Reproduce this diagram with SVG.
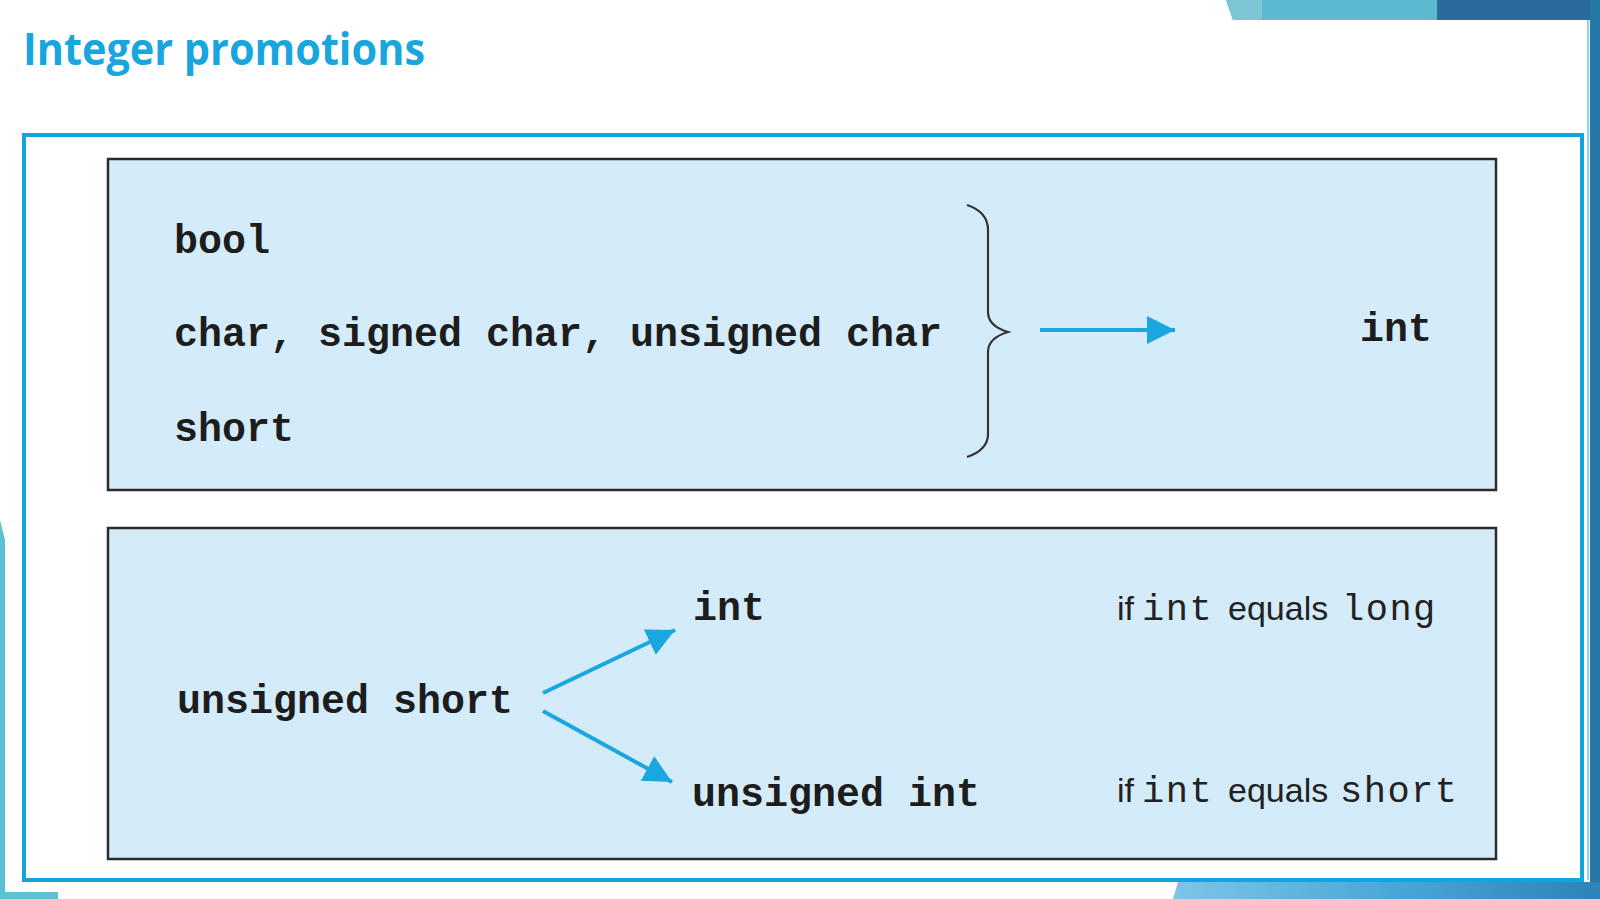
<svg xmlns="http://www.w3.org/2000/svg" width="1600" height="899" viewBox="0 0 1600 899">
<style>
.title{font-family:"Open Sans","Liberation Sans",sans-serif;font-weight:bold;font-size:44px;fill:#19a5de}
.code{font-family:"Liberation Mono","Courier New",monospace;font-weight:bold;font-size:40px;fill:#1d1d1d}
.mono{font-family:"Liberation Mono","Courier New",monospace;font-size:37px;letter-spacing:1.5px;fill:#222}
.sans{font-family:"Liberation Sans",Arial,sans-serif;font-size:34px;fill:#222}
.box{fill:#d4ecf9;stroke:#2b2b2b;stroke-width:2.5}
.conn{stroke:#1aa6df;stroke-width:4;fill:none}
</style>
<defs>
<marker id="ah" markerWidth="8" markerHeight="8" refX="7" refY="4" orient="auto" markerUnits="strokeWidth">
<path d="M0,0.5 L7,4 L0,7.5 z" fill="#1aa6df"/>
</marker>
<linearGradient id="bg" x1="0" y1="0" x2="1" y2="0">
<stop offset="0" stop-color="#7fc4e6"/>
<stop offset="0.5" stop-color="#4aa8d8"/>
<stop offset="1" stop-color="#2a84b8"/>
</linearGradient>
</defs>
<rect x="0" y="0" width="1600" height="899" fill="#ffffff"/>
<!-- decorations -->
<polygon points="1226,0 1437,0 1437,20 1233,20" fill="#5db9cf"/>
<polygon points="1226,0 1262,0 1262,20 1233,20" fill="#7dc6d6"/>
<rect x="1437" y="0" width="163" height="20" fill="#2a6b9d"/>
<rect x="1590" y="0" width="10" height="899" fill="#2579a8"/>
<rect x="1587" y="20" width="2" height="860" fill="#8fd0ea"/>
<polygon points="1178,882 1600,882 1600,899 1173,899" fill="url(#bg)"/>
<polygon points="0,520 5,540 5,892 58,892 58,899 0,899" fill="#5cc1d2"/>
<rect x="24" y="135" width="1558" height="745" fill="none" stroke="#13a4e0" stroke-width="4"/>
<text class="title" x="23" y="65" textLength="402" lengthAdjust="spacingAndGlyphs">Integer promotions</text>

<g id="top-box">
<rect class="box" x="108" y="159" width="1388" height="331"/>
<text class="code" x="174" y="253">bool</text>
<text class="code" x="174" y="346">char, signed char, unsigned char</text>
<text class="code" x="174" y="441">short</text>
</g>
<g id="brace">
<path d="M967,205 Q988,212 988,230 L988,312 Q988,326 1008,332 Q988,338 988,352 L988,434 Q988,450 967,457" fill="none" stroke="#333" stroke-width="2.2"/>
</g>
<g id="int-top">
<text class="code" x="1360" y="341">int</text>
</g>

<g id="bottom-box">
<rect class="box" x="108" y="528" width="1388" height="331"/>
<text class="code" x="177" y="713">unsigned short</text>
</g>
<g id="int-bottom">
<text class="code" x="693" y="620">int</text>
<text x="1117" y="620"><tspan class="sans">if</tspan><tspan class="mono" x="1142">int</tspan><tspan class="sans" x="1228">equals</tspan><tspan class="mono" x="1342">long</tspan></text>
</g>
<g id="unsigned-int">
<text class="code" x="692" y="806">unsigned int</text>
<text x="1117" y="802"><tspan class="sans">if</tspan><tspan class="mono" x="1142">int</tspan><tspan class="sans" x="1228">equals</tspan><tspan class="mono" x="1340">short</tspan></text>
</g>

<g id="connectors">
<line class="conn" x1="1040" y1="330" x2="1175" y2="330" marker-end="url(#ah)"/>
<line class="conn" x1="543" y1="693" x2="675" y2="630" marker-end="url(#ah)"/>
<line class="conn" x1="543" y1="711" x2="672" y2="782" marker-end="url(#ah)"/>
</g>
</svg>
